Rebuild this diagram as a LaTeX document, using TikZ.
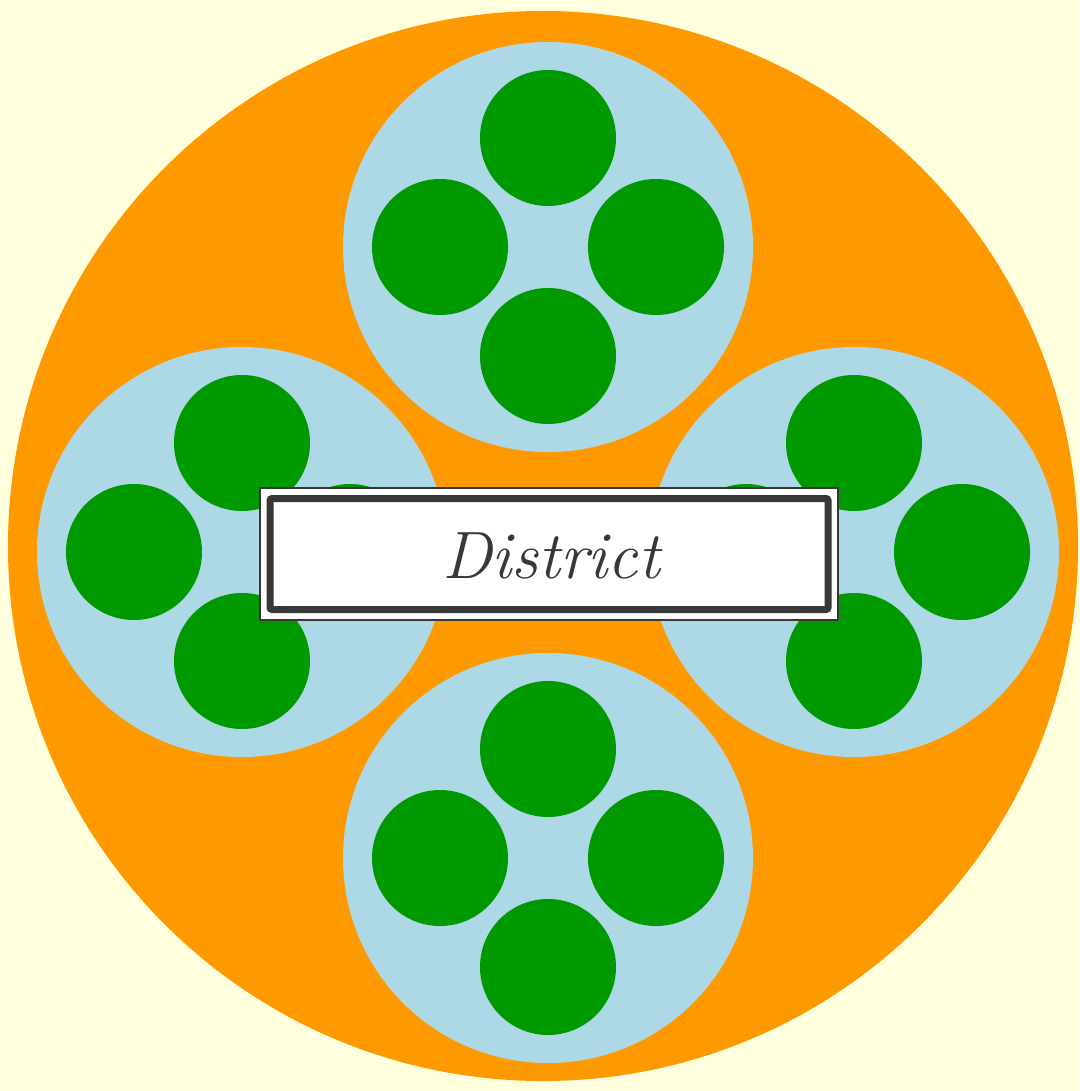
\documentclass[tikz,border=0pt]{standalone}
\definecolor{bgyellow}{HTML}{FFFFDD}
\definecolor{districtorange}{HTML}{FF9900}
\definecolor{hoodblue}{HTML}{ADD8E6}
\definecolor{blockgreen}{HTML}{009900}
\definecolor{framegray}{HTML}{383838}
\tikzset{
  disk/.style={circle, inner sep=0pt, draw=none},
  districtdisk/.style={disk, fill=districtorange, minimum size=1070pt},
  hooddisk/.style={disk, fill=hoodblue, minimum size=410pt},
  blockdisk/.style={disk, fill=blockgreen, minimum size=136pt},
  outerframe/.style={draw=framegray, line width=1.5pt, fill=white},
  innerframe/.style={draw=framegray, line width=7pt, rounded corners=2pt},
  labeltext/.style={text=framegray, font=\fontsize{67}{80}\selectfont\itshape}
}
\begin{document}
\begin{tikzpicture}[x=1pt, y=-1pt]
  \fill[bgyellow] (0,0) rectangle (1079,1091);
  \useasboundingbox (0,0) rectangle (1079,1091);
  \begin{scope}
    \clip (0,0) rectangle (1079,1091);
    \node[districtdisk] (district) at (543,546) {};
  \end{scope}
  % neighbourhoods
  \node[hooddisk] (hoodT) at (548,247) {};
  \node[hooddisk] (hoodB) at (548,858) {};
  \node[hooddisk] (hoodL) at (242,552) {};
  \node[hooddisk] (hoodR) at (854,552) {};
  % blocks in each neighbourhood
  \foreach \h in {T,B,L,R}{
    \node[blockdisk] (blk\h n) at ([yshift=-109pt]hood\h.center) {};
    \node[blockdisk] (blk\h s) at ([yshift=109pt]hood\h.center) {};
    \node[blockdisk] (blk\h w) at ([xshift=-108pt]hood\h.center) {};
    \node[blockdisk] (blk\h e) at ([xshift=108pt]hood\h.center) {};
  }
  % label frame
  \draw[outerframe] (260,488) rectangle (838,620);
  \draw[innerframe] (270,498.5) rectangle (828,609.5);
  \node[labeltext] (label) at (551,556) {District};
\end{tikzpicture}
\end{document}
